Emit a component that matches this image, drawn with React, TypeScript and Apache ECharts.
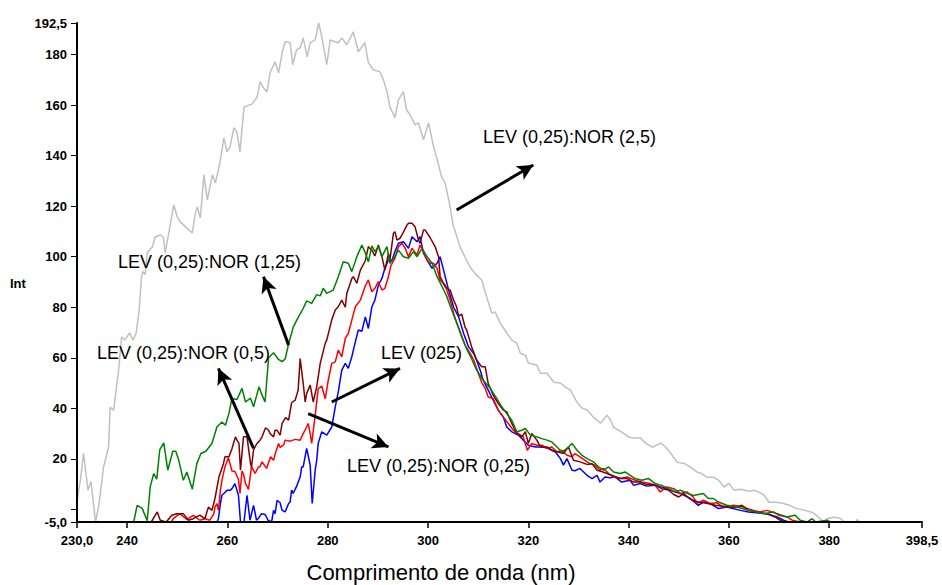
import React, { useEffect, useRef } from "react";
import * as echarts from "echarts";

// Emission spectra, wavelength (nm) vs intensity.
type Pt = [number, number];

const X_MIN = 230;
const X_MAX = 398.5;
const Y_MIN = -5;
const Y_MAX = 192.5;

const xTickValues = [230, 240, 260, 280, 300, 320, 340, 360, 380, 398.5];
const yTickValues = [-5, 0, 20, 40, 60, 80, 100, 120, 140, 160, 180, 192.5];
const yLabelValues = [-5, 20, 40, 60, 80, 100, 120, 140, 160, 180, 192.5];

// LEV (0,25):NOR (2,5)
const levNor2_5: Pt[] = [
  [230.0, 3.0], [230.7, 12], [231.3, 22.2], [231.8, 14], [232.2, 7.6], [232.8, 11], [233.3, 2], [233.7, -5],
  [234.2, 0], [234.4, 2.4], [235.3, 16.8], [236.3, 24.6], [236.6, 40.4], [237.3, 39.3], [238.3, 55.1],
  [238.9, 68.2], [239.5, 67.0], [240.5, 69.8], [241.2, 67.0], [241.8, 69.8], [242.4, 78.9], [242.8, 90.8],
  [243.1, 94.1], [243.6, 93], [244.0, 101.5], [245.0, 103.8], [245.6, 107.8], [246.6, 108.6], [247.2, 107.8],
  [247.6, 101.5], [248.3, 109.4], [249.3, 120.5], [250.0, 115.7], [250.6, 113.7], [251.3, 112.5], [252.3, 110.6],
  [253.0, 109.4], [253.6, 117.3], [254.0, 119.7], [254.6, 115.3], [255.3, 132.4], [256.0, 122.5], [257.0, 132.4],
  [257.6, 129.2], [258.5, 137.1], [259.3, 147.0], [259.9, 141.5], [260.5, 143.5], [261.3, 151.1], [261.9, 149.1],
  [262.5, 141.5], [263.3, 159.2], [264.3, 160.0], [264.9, 160.4], [265.9, 163.1], [266.5, 169.2], [267.2, 166.8],
  [267.9, 165.2], [268.5, 172.8], [269.5, 177.1], [270.2, 172.8], [270.9, 180.7], [271.5, 185.1], [272.5, 184.7],
  [273.0, 176.0], [273.8, 181.9], [274.5, 182.7], [275.1, 186.6], [275.9, 179.1], [276.5, 184.7], [277.5, 185.8],
  [278.2, 192.5], [278.8, 187.1], [279.8, 176.0], [280.5, 185.8], [281.5, 185.1], [282.1, 184.7], [282.8, 186.6],
  [283.8, 183.9], [285.1, 189.0], [286.1, 181.1], [287.4, 184.7], [288.1, 176.8], [289.1, 174.0], [290.4, 173.2],
  [291.1, 170.0], [291.8, 165.3], [292.4, 159.3], [293.4, 155.0], [294.1, 162.1], [295.1, 165.3], [295.7, 158.2],
  [296.4, 156.2], [297.4, 152.2], [298.1, 153.0], [299.1, 146.3], [300.1, 153.0], [301.1, 143.5], [301.7, 139.5],
  [302.7, 131.6], [303.4, 129.2], [304.0, 123.7], [304.4, 119.7], [305.0, 112.6], [306.4, 103.8], [307.4, 99.8],
  [308.4, 95.8], [309.7, 92.7], [310.7, 90.8], [311.7, 84.0], [312.7, 77.7], [313.4, 78.1], [314.4, 73.7],
  [315.7, 69.8], [316.7, 67.0], [317.7, 65.8], [318.4, 61.8], [319.4, 61.0], [320.0, 57.9], [321.7, 57.1],
  [322.4, 53.9], [323.7, 53.9], [325.1, 50.3], [326.4, 50.0], [327.4, 48.4], [328.4, 47.2], [329.7, 42.4],
  [330.7, 40.1], [331.7, 39.3], [333.0, 36.5], [334.4, 34.1], [335.7, 37.3], [336.4, 35.3], [337.0, 32.5],
  [338.7, 30.5], [340.0, 28.6], [341.0, 28.2], [342.4, 28.2], [343.4, 26.2], [344.7, 24.6], [346.4, 26.2],
  [347.4, 24.6], [348.4, 22.2], [349.7, 18.6], [351.1, 18.2], [352.4, 16.6], [353.7, 14.7], [354.4, 14.3],
  [355.7, 12.7], [357.0, 12.7], [358.0, 11.5], [359.0, 8.8], [360.0, 10.3], [361.0, 7.6], [362.4, 8.0],
  [364.0, 7.2], [365.0, 7.6], [366.4, 6.4], [367.0, 5.6], [368.0, 2.8], [369.4, 2.8], [370.7, 2.4],
  [372.1, 1.6], [373.4, 0.4], [375.1, -0.4], [376.7, -1.2], [378.1, -3.5], [378.8, -5], [379.8, -3.5],
  [381.1, -3.1], [382.1, -3.5], [383.1, -5], [385.3, -5], [385.6, -4], [386.0, -5], [398.5, -5],
];

// LEV (0,25):NOR (1,25)
const levNor1_25: Pt[] = [
  [230, -5], [241.3, -5], [242.0, 1.6], [243.0, 0.4], [244.0, -4.5], [244.6, 8.9], [245.3, 14.2], [245.9, 12.0],
  [246.5, 23.5], [247.3, 26.3], [248.1, 15.5], [249.1, 23.0], [249.7, 23.0], [250.3, 19.4], [251.2, 11.5],
  [251.9, 14.8], [253.0, 8.0], [253.9, 18.1], [254.7, 22.1], [255.7, 23.0], [256.9, 26.1], [257.9, 32.6],
  [258.9, 34.6], [259.6, 33.3], [260.3, 38.0], [260.9, 43.9], [261.9, 43.5], [262.9, 47.9], [263.6, 42.5],
  [264.6, 44.0], [265.2, 40.6], [266.3, 48.5], [266.9, 45.2], [267.5, 42.5], [268.2, 60.0], [269.2, 62.0],
  [270.1, 59.5], [270.9, 58.5], [271.5, 59.5], [272.2, 65.5], [273.1, 72.0], [274.1, 76.0], [275.1, 79.5],
  [275.8, 82.5], [276.8, 81.5], [277.8, 85.0], [278.5, 84.5], [279.1, 87.5], [279.8, 85.5], [281.1, 86.8],
  [282.1, 92.1], [283.1, 98.0], [284.1, 97.4], [284.8, 94.1], [285.8, 100.0], [286.8, 104.6], [287.5, 101.5],
  [288.1, 98.0], [288.8, 104.3], [289.4, 102.0], [290.1, 104.0], [290.8, 100.0], [291.8, 104.0], [292.4, 97.4],
  [293.4, 100.0], [294.1, 102.6], [295.1, 100.0], [296.1, 99.4], [297.1, 102.0], [297.8, 100.0], [298.8, 103.3],
  [299.8, 100.0], [300.8, 97.4], [301.8, 92.1], [302.8, 88.1], [303.7, 84.5], [304.7, 79.0], [305.7, 74.0],
  [306.7, 68.3], [307.7, 63.5], [308.7, 59.5], [309.7, 55.1], [311.0, 51.1], [312.4, 47.9], [313.7, 43.9],
  [314.7, 40.6], [315.7, 37.9], [316.7, 35.3], [317.7, 30.7], [318.7, 31.3], [319.4, 32.0], [320.4, 29.4],
  [321.7, 28.7], [322.7, 28.0], [323.7, 27.4], [324.7, 26.7], [325.7, 24.7], [326.7, 22.7], [327.7, 24.1],
  [328.7, 26.1], [329.7, 23.4], [330.7, 21.4], [331.7, 20.1], [333.0, 18.8], [334.0, 16.8], [335.0, 15.5],
  [336.0, 16.8], [337.0, 14.8], [338.3, 14.2], [339.3, 14.8], [340.3, 13.5], [341.3, 12.2], [342.6, 11.5],
  [344.0, 12.2], [345.3, 10.2], [346.6, 9.5], [348.0, 8.2], [349.3, 6.9], [350.3, 7.6], [351.6, 6.5],
  [352.9, 5.5], [354.9, 6.3], [355.9, 4.3], [356.9, 4.3], [357.9, 2.9], [359.6, 1.6], [361.6, 0.9],
  [363.9, -0.4], [365.6, -1.0], [366.9, -1.7], [368.9, -1.0], [369.9, -2.3], [371.6, -3.0], [373.2, -2.3],
  [374.2, -4.3], [375.6, -5], [376.6, -3.7], [377.3, -5], [379.6, -4.3], [380.2, -5], [398.5, -5],
];

// LEV (0,25):NOR (0,5)
const levNor0_5: Pt[] = [
  [230, -5], [244.8, -5], [246.0, -1.0], [246.6, -4.3], [247.8, -5], [248.9, -2.3], [249.9, -1.7], [251.2, -1.7],
  [252.2, -4.3], [253.2, -3.7], [254.5, -2.3], [255.5, -3.7], [256.2, 0.9], [256.9, -0.4], [257.5, 4.2],
  [258.3, 12.8], [259.2, 18.1], [259.5, 20.8], [260.3, 20.8], [260.9, 24.0], [261.2, 26.1], [261.6, 28.7],
  [261.9, 27.4], [262.3, 26.1], [262.6, 15.5], [263.2, 28.7], [263.9, 28.7], [264.6, 18.1], [264.8, 16.8],
  [265.2, 23.4], [265.5, 24.7], [265.9, 26.1], [266.5, 27.4], [266.9, 28.7], [267.6, 32.3], [268.2, 31.3],
  [268.5, 30.0], [269.2, 28.7], [269.5, 31.3], [269.9, 31.3], [270.5, 29.4], [270.9, 34.0], [271.6, 36.3],
  [272.2, 35.3], [272.8, 42.2], [273.5, 43.2], [274.1, 47.2], [274.5, 59.7], [275.1, 50.0], [275.5, 42.5],
  [275.8, 45.9], [276.5, 49.2], [277.1, 42.5], [277.8, 48.5], [278.5, 57.8], [279.5, 65.7], [279.8, 67.0],
  [280.8, 75.0], [281.5, 78.9], [282.1, 80.2], [282.8, 82.8], [283.5, 80.0], [283.8, 85.5], [284.5, 89.5],
  [284.8, 91.4], [285.1, 92.1], [285.8, 89.5], [286.5, 94.7], [287.5, 98.4], [288.1, 104.0], [288.4, 103.3],
  [288.8, 102.6], [289.4, 100.3], [290.1, 104.6], [290.8, 100.0], [291.4, 94.7], [292.1, 101.3], [292.4, 98.7],
  [293.1, 109.3], [293.4, 109.9], [293.8, 106.6], [294.4, 107.3], [294.8, 108.6], [295.8, 112.5], [296.1, 113.2],
  [296.8, 113.2], [297.4, 111.9], [298.1, 106.6], [298.4, 105.3], [299.1, 110.6], [299.4, 110.6], [300.4, 107.6],
  [301.4, 104.0], [302.1, 100.0], [302.4, 92.1], [303.4, 88.1], [304.4, 86.8], [305.1, 82.8], [305.7, 80.2],
  [306.1, 76.5], [306.7, 77.3], [307.4, 72.0], [307.7, 71.0], [308.7, 64.3], [309.7, 59.1], [310.7, 56.4],
  [311.4, 56.4], [312.0, 49.8], [313.0, 45.2], [314.0, 41.9], [315.0, 39.3], [315.7, 38.6], [316.4, 35.3],
  [317.7, 30.0], [318.7, 28.7], [319.4, 30.7], [320.0, 26.1], [320.7, 30.0], [321.7, 27.4], [322.4, 24.7],
  [323.7, 24.7], [324.7, 23.4], [326.0, 22.7], [327.0, 22.1], [328.0, 24.7], [329.0, 19.4], [330.3, 18.8],
  [331.7, 17.8], [332.7, 18.1], [333.7, 15.5], [334.6, 15.0], [335.7, 14.2], [337.0, 13.2], [338.3, 12.2],
  [339.7, 12.2], [341.0, 10.8], [342.3, 10.8], [343.6, 9.8], [345.0, 9.8], [346.3, 9.0], [347.6, 8.2],
  [349.0, 5.9], [350.0, 4.9], [351.0, 6.3], [352.3, 4.0], [353.9, 2.9], [355.3, 2.5], [357.3, 1.6],
  [358.9, 1.2], [360.9, 0.6], [362.6, 1.6], [363.9, -0.4], [365.6, -1.0], [367.6, -1.8], [369.2, -3.0],
  [370.2, -4.3], [371.2, -5], [398.5, -5],
];

// LEV (0,25):NOR (0,25)
const levNor0_25: Pt[] = [
  [230, -5], [248.8, -5], [249.2, -3.7], [250.5, -1.7], [251.9, -4.0], [253.2, -2.4], [254.5, -4.3], [255.5, -3.7],
  [256.5, -4.3], [257.3, -1.7], [257.5, 0.9], [257.9, 2.3], [258.2, -0.4], [258.6, 7.6], [258.9, 11.5],
  [259.5, 16.8], [260.2, 20.5], [260.9, 15.2], [261.5, 15.0], [262.2, 11.8], [262.5, 6.3], [262.9, 15.2],
  [263.2, 14.0], [263.6, 10.2], [264.2, 7.9], [264.8, 17.0], [265.5, 14.2], [266.2, 16.8], [266.5, 17.0],
  [266.9, 18.8], [267.8, 16.2], [268.6, 20.8], [269.2, 19.4], [269.6, 22.4], [270.2, 26.1], [270.5, 24.5],
  [271.2, 25.5], [271.5, 27.4], [272.5, 27.0], [273.5, 27.7], [274.5, 27.4], [275.1, 30.0], [275.8, 32.6],
  [276.1, 34.0], [276.5, 30.0], [276.8, 26.1], [277.5, 37.3], [278.1, 47.8], [278.8, 48.8], [279.5, 43.8],
  [280.1, 51.1], [280.8, 57.8], [281.5, 58.4], [282.1, 63.0], [282.8, 60.4], [283.5, 67.7], [284.1, 69.6],
  [284.8, 74.9], [285.5, 80.2], [286.5, 82.8], [287.5, 88.5], [288.1, 90.8], [288.8, 86.1], [289.4, 87.5],
  [290.1, 90.1], [290.8, 86.8], [291.4, 87.5], [292.1, 92.1], [292.6, 96.5], [293.4, 99.4], [294.1, 104.0],
  [294.8, 105.3], [295.4, 103.5], [296.1, 100.0], [296.8, 103.3], [297.8, 100.7], [298.4, 104.6], [299.1, 102.0],
  [299.8, 98.7], [300.4, 97.4], [301.1, 97.4], [301.8, 95.4], [302.4, 90.8], [303.4, 88.8], [304.4, 83.0],
  [305.4, 75.5], [306.4, 70.3], [307.4, 65.0], [308.4, 61.7], [309.1, 59.1], [310.1, 53.5], [310.7, 50.2],
  [311.4, 47.9], [312.0, 44.5], [313.0, 43.9], [314.0, 39.3], [315.0, 36.6], [316.0, 34.0], [317.0, 31.3],
  [318.0, 30.0], [319.0, 28.7], [319.8, 23.4], [320.7, 26.1], [321.7, 25.4], [322.7, 25.4], [323.7, 24.1],
  [324.7, 24.7], [325.7, 22.7], [326.7, 23.4], [327.7, 21.4], [328.7, 20.8], [329.3, 22.1], [330.3, 20.8],
  [331.3, 19.4], [332.3, 18.1], [333.3, 17.5], [334.3, 15.5], [335.0, 16.2], [336.0, 14.2], [337.0, 12.8],
  [338.3, 12.2], [339.7, 12.8], [341.3, 11.5], [342.6, 10.8], [344.3, 10.2], [345.3, 9.5], [346.3, 6.9],
  [347.6, 8.9], [349.0, 8.2], [350.3, 6.3], [351.6, 6.9], [352.9, 4.9], [353.6, 2.3], [354.9, 3.6],
  [356.3, 2.3], [357.6, 2.6], [358.9, 0.9], [360.9, 1.6], [362.9, 0.9], [364.9, -0.4], [366.2, -1.0],
  [367.6, -0.4], [369.6, -1.7], [371.6, -3.0], [372.6, -4.3], [374.2, -5], [398.5, -5],
];

// LEV (025)
const lev025: Pt[] = [
  [230, -5], [257.9, -5], [258.2, -3.7], [258.6, 2.3], [258.9, 5.6], [259.6, 6.9], [259.9, 7.6], [260.6, 7.6],
  [260.9, 8.2], [261.5, 10.2], [262.2, 5.5], [262.6, -5], [263.3, -5], [263.9, 5.6], [264.5, -4.3], [265.2, 1.6],
  [265.8, -4.3], [266.2, -3.5], [266.8, -1.7], [267.5, -2.0], [268.1, -4.3], [268.8, -5], [269.2, -0.4],
  [269.5, -1.7], [269.9, 3.6], [270.5, 2.6], [270.9, -0.4], [271.5, -1.0], [272.2, 2.3], [272.5, 2.9],
  [272.8, 7.6], [273.1, 6.3], [273.8, 9.2], [274.5, 12.8], [274.8, 16.8], [275.1, 16.8], [275.8, 24.1],
  [276.5, 17.5], [276.9, 2.3], [277.5, 15.5], [277.8, 19.4], [278.1, 26.1], [278.3, 27.4], [278.8, 30.7],
  [279.8, 29.4], [280.8, 32.6], [281.5, 40.6], [282.1, 46.5], [282.8, 55.1], [283.5, 57.8], [284.1, 55.8],
  [284.8, 60.4], [285.5, 66.3], [286.1, 71.0], [286.8, 70.5], [287.5, 76.2], [288.1, 71.6], [288.8, 80.2],
  [289.4, 82.8], [290.1, 88.8], [290.8, 91.4], [291.4, 95.4], [292.1, 98.7], [292.8, 98.5], [293.4, 102.0],
  [294.1, 105.3], [295.1, 105.9], [296.1, 103.3], [296.8, 107.9], [297.8, 105.9], [298.4, 107.9], [299.1, 101.3],
  [299.8, 98.7], [300.8, 95.4], [301.8, 97.4], [302.4, 100.0], [303.1, 94.7], [304.1, 86.8], [305.1, 80.0],
  [306.1, 76.2], [307.1, 69.6], [308.1, 64.3], [309.1, 61.7], [309.7, 59.0], [310.4, 55.1], [311.0, 51.1],
  [312.0, 47.2], [313.0, 43.2], [314.0, 39.3], [315.0, 36.6], [315.7, 32.6], [316.7, 30.7], [318.0, 29.4],
  [319.0, 27.4], [320.0, 25.4], [321.4, 24.7], [323.0, 24.7], [324.0, 24.1], [325.4, 22.7], [326.4, 20.1],
  [327.0, 17.5], [327.7, 20.1], [328.7, 15.5], [329.3, 15.3], [330.3, 16.2], [331.7, 13.5], [332.7, 12.2],
  [333.7, 13.5], [334.3, 10.8], [335.3, 12.8], [336.3, 12.5], [337.3, 12.8], [338.6, 10.8], [340.3, 11.5],
  [341.0, 9.5], [342.3, 10.2], [343.6, 9.2], [345.3, 9.5], [346.6, 8.2], [348.3, 7.6], [350.3, 6.3],
  [352.3, 4.3], [353.9, 1.6], [354.9, 2.9], [356.3, 2.3], [357.9, 0.3], [359.6, 0.9], [362.3, -0.4],
  [363.9, -1.0], [367.6, -1.7], [369.6, -3.0], [370.9, -4.3], [371.9, -5], [398.5, -5],
];

// Annotation arrows, in data coordinates: [from, to]
const arrows: [Pt, Pt][] = [
  [[305.7, 118.5], [321.0, 136.3]],
  [[272.2, 65.0], [267.2, 92.1]],
  [[265.2, 24.1], [258.2, 55.8]],
  [[280.8, 42.5], [294.4, 55.8]],
  [[276.1, 37.9], [292.1, 24.7]],
];

const FONT = '"Liberation Sans", Arial, Helvetica, sans-serif';

const fmtTick = (v: number, min: number) =>
  Number.isInteger(v) && v !== min ? String(v) : v.toFixed(1).replace(".", ",");

// Spectra sit beneath the axes so the baseline stays black.
const curve = (name: string, data: Pt[], color: string) => ({
  name,
  type: "line" as const,
  data,
  z: -1,
  showSymbol: false,
  symbol: "none",
  clip: true,
  lineStyle: { color, width: 1.5 },
  emphasis: { disabled: true },
  silent: true,
});

const annotation = (text: string, x: number, y: number) => ({
  type: "text" as const,
  x,
  y,
  silent: true,
  style: {
    text,
    fill: "#000",
    fontFamily: FONT,
    fontSize: 18,
    align: "left",
    verticalAlign: "middle",
  },
});

export default function App() {
  const ref = useRef<HTMLDivElement>(null);

  useEffect(() => {
    if (!ref.current) return;
    const chart = echarts.init(ref.current, null, { renderer: "svg" });
    chart.setOption({
      animation: false,
      backgroundColor: "#fff",
      grid: { left: 77, right: 20, top: 23, bottom: 63 },
      xAxis: {
        type: "value",
        min: X_MIN,
        max: X_MAX,
        z: 3,
        axisLine: { show: true, onZero: false, lineStyle: { color: "#000", width: 2 } },
        axisTick: { show: true, customValues: xTickValues, length: 6, lineStyle: { color: "#000", width: 1.5 } },
        axisLabel: {
          customValues: xTickValues,
          formatter: (v: number) => fmtTick(v, X_MIN),
          color: "#000",
          fontFamily: FONT,
          fontSize: 13,
          fontWeight: "bold",
          margin: 12,
        },
        splitLine: { show: false },
      },
      yAxis: {
        type: "value",
        min: Y_MIN,
        max: Y_MAX,
        z: 3,
        axisLine: { show: true, onZero: false, lineStyle: { color: "#000", width: 2 } },
        axisTick: { show: true, customValues: yTickValues, length: 6, lineStyle: { color: "#000", width: 1 } },
        axisLabel: {
          customValues: yLabelValues,
          formatter: (v: number) => fmtTick(v, Y_MIN),
          color: "#000",
          fontFamily: FONT,
          fontSize: 13,
          fontWeight: "bold",
          margin: 10,
        },
        splitLine: { show: false },
      },
      series: [
        curve("LEV (0,25):NOR (2,5)", levNor2_5, "#c0c0c0"),
        curve("LEV (025)", lev025, "#0000ff"),
        curve("LEV (0,25):NOR (0,25)", levNor0_25, "#ff0000"),
        curve("LEV (0,25):NOR (0,5)", levNor0_5, "#800000"),
        curve("LEV (0,25):NOR (1,25)", levNor1_25, "#008000"),
        {
          name: "arrows",
          type: "line",
          data: [],
          z: 5,
          silent: true,
          markLine: {
            silent: true,
            animation: false,
            symbol: ["none", "arrow"],
            symbolSize: [12, 16],
            label: { show: false },
            emphasis: { disabled: true },
            lineStyle: { color: "#000", width: 3, type: "solid" },
            data: arrows.map(([a, b]) => [{ coord: a }, { coord: b }]),
          },
        },
      ],
      graphic: [
        annotation("LEV (0,25):NOR (2,5)", 483, 137),
        annotation("LEV (0,25):NOR (1,25)", 118, 262),
        annotation("LEV (0,25):NOR (0,5)", 97, 353),
        annotation("LEV (025)", 381, 353),
        annotation("LEV (0,25):NOR (0,25)", 347, 466),
        {
          type: "text",
          x: 10,
          y: 283,
          silent: true,
          style: { text: "Int", fill: "#000", fontFamily: FONT, fontSize: 13, fontWeight: "bold", verticalAlign: "middle" },
        },
        {
          type: "text",
          x: 441,
          y: 572,
          silent: true,
          style: {
            text: "Comprimento de onda (nm)",
            fill: "#000",
            fontFamily: FONT,
            fontSize: 22,
            align: "center",
            verticalAlign: "middle",
          },
        },
      ],
    });
    return () => chart.dispose();
  }, []);

  return (
    <div
      ref={ref}
      style={{ position: "fixed", left: 0, top: 0, width: 942, height: 585, background: "#fff" }}
    />
  );
}
